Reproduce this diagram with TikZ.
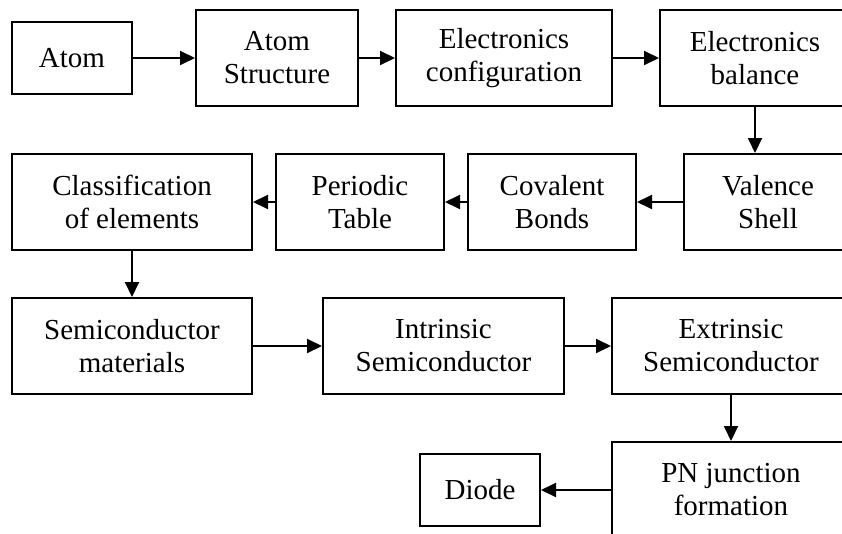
\documentclass[tikz,border=0pt]{standalone}
\usepackage{fontspec}
\setmainfont{Liberation Serif}
\usetikzlibrary{arrows.meta}
\begin{document}
\begin{tikzpicture}[x=1pt,y=-1pt,
  blk/.style={draw,line width=2pt,inner sep=0pt,align=center,
    font=\fontsize{29}{33}\selectfont,minimum height=96pt},
  sblk/.style={blk,minimum height=72pt},
  arr/.style={line width=2pt,-{Triangle[length=15pt,width=14pt]}}]
\useasboundingbox (0,0) rectangle (842,533);
\clip (0,0) rectangle (842,533);
\fill[white] (0,0) rectangle (842,533);
\node[sblk,minimum width=120pt] (atom) at (72,58) {Atom};
\node[blk,minimum width=162pt] (struct) at (277,58) {Atom\\Structure};
\node[blk,minimum width=216pt] (config) at (504,58) {Electronics\\configuration};
\node[blk,minimum width=190pt] (balance) at (755,58) {Electronics\\balance};
\node[blk,minimum width=168pt] (valence) at (768,202) {Valence\\Shell};
\node[blk,minimum width=168pt] (covalent) at (552,202) {Covalent\\Bonds};
\node[blk,minimum width=168pt] (periodic) at (360,202) {Periodic\\Table};
\node[blk,minimum width=240pt] (classif) at (132,202) {Classification\\of elements};
\node[blk,minimum width=240pt] (semimat) at (132,346) {Semiconductor\\materials};
\node[blk,minimum width=241pt] (intr) at (443.5,346) {Intrinsic\\Semiconductor};
\node[blk,minimum width=238pt] (extr) at (731,346) {Extrinsic\\Semiconductor};
\node[blk,minimum width=238pt] (pn) at (731,490) {PN junction\\formation};
\node[sblk,minimum width=120pt] (diode) at (480,490) {Diode};
\draw[arr] (atom.east) -- (struct.west);
\draw[arr] (struct.east) -- (config.west);
\draw[arr] (config.east) -- (balance.west);
\draw[arr] (balance.south) -- (balance.south |- valence.north);
\draw[arr] (valence.west) -- (covalent.east);
\draw[arr] (covalent.west) -- (periodic.east);
\draw[arr] (periodic.west) -- (classif.east);
\draw[arr] (classif.south) -- (semimat.north);
\draw[arr] (semimat.east) -- (intr.west);
\draw[arr] (intr.east) -- (extr.west);
\draw[arr] (extr.south) -- (pn.north);
\draw[arr] (pn.west) -- (diode.east);
\end{tikzpicture}
\end{document}
